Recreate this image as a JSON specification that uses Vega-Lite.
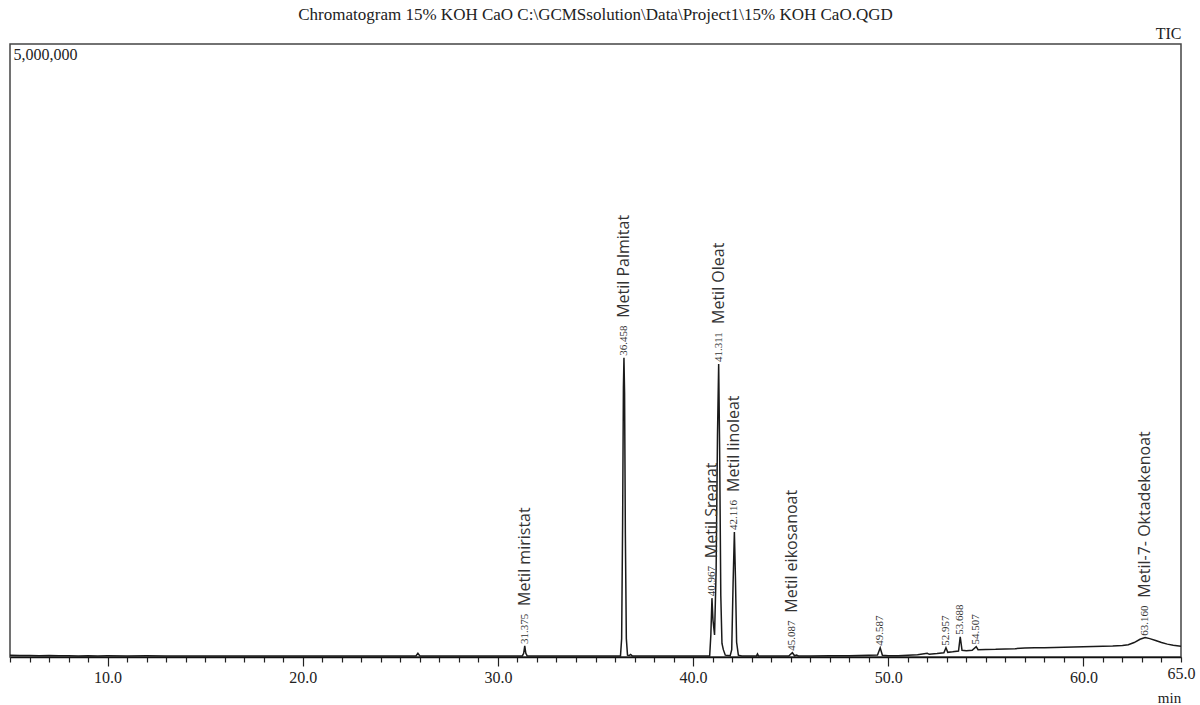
{
  "$schema": "https://vega.github.io/schema/vega-lite/v6.json",
  "width": 1171,
  "height": 613,
  "autosize": {"type": "none"},
  "padding": {"left": 10, "top": 44, "right": 19, "bottom": 48},
  "background": "white",
  "config": {"view": {"stroke": "#444", "strokeWidth": 1.5}, "font": "Liberation Serif"},
  "title": {"text": "Chromatogram 15% KOH CaO C:\\GCMSsolution\\Data\\Project1\\15% KOH CaO.QGD", "font": "Liberation Serif", "fontSize": 17, "fontWeight": "normal", "color": "#222", "anchor": "middle", "baseline": "bottom", "offset": -16},
  "datasets": {
    "trace": [
      {"t": 5.0, "v": 14000}, {"t": 5.5, "v": 12000}, {"t": 6.0, "v": 13000}, {"t": 6.5, "v": 11000},
      {"t": 7.0, "v": 12000}, {"t": 7.5, "v": 10000}, {"t": 8.0, "v": 11000}, {"t": 8.5, "v": 9000},
      {"t": 9.0, "v": 10000}, {"t": 9.5, "v": 9000}, {"t": 10.0, "v": 10000}, {"t": 11.0, "v": 9000},
      {"t": 12.0, "v": 9500}, {"t": 13.0, "v": 8500}, {"t": 14.0, "v": 9000}, {"t": 15.0, "v": 8000},
      {"t": 16.0, "v": 8500}, {"t": 17.0, "v": 8000}, {"t": 18.0, "v": 8500}, {"t": 19.0, "v": 8000},
      {"t": 20.0, "v": 8000}, {"t": 21.0, "v": 8500}, {"t": 22.0, "v": 8000}, {"t": 23.0, "v": 8000},
      {"t": 24.0, "v": 8500}, {"t": 25.0, "v": 8000}, {"t": 25.8, "v": 8000}, {"t": 25.9, "v": 30000},
      {"t": 26.0, "v": 8000}, {"t": 27.0, "v": 8000}, {"t": 28.0, "v": 8000}, {"t": 29.0, "v": 8000},
      {"t": 30.0, "v": 8000}, {"t": 31.0, "v": 8000}, {"t": 31.25, "v": 8500}, {"t": 31.32, "v": 30000},
      {"t": 31.375, "v": 90000}, {"t": 31.43, "v": 30000}, {"t": 31.5, "v": 9000}, {"t": 32.0, "v": 8000},
      {"t": 33.0, "v": 8000}, {"t": 34.0, "v": 8000}, {"t": 35.0, "v": 8000}, {"t": 36.0, "v": 8000},
      {"t": 36.28, "v": 9000}, {"t": 36.34, "v": 150000}, {"t": 36.39, "v": 1100000}, {"t": 36.43, "v": 2200000},
      {"t": 36.458, "v": 2440000}, {"t": 36.49, "v": 2150000}, {"t": 36.53, "v": 1000000}, {"t": 36.58, "v": 150000},
      {"t": 36.64, "v": 15000}, {"t": 36.72, "v": 12000}, {"t": 36.8, "v": 20000}, {"t": 36.88, "v": 9000},
      {"t": 37.5, "v": 8000}, {"t": 38.0, "v": 8000}, {"t": 39.0, "v": 8000}, {"t": 40.0, "v": 8000},
      {"t": 40.85, "v": 9000}, {"t": 40.91, "v": 180000}, {"t": 40.967, "v": 480000}, {"t": 41.02, "v": 300000},
      {"t": 41.1, "v": 180000}, {"t": 41.18, "v": 700000}, {"t": 41.25, "v": 1800000}, {"t": 41.311, "v": 2390000},
      {"t": 41.36, "v": 1700000}, {"t": 41.42, "v": 500000}, {"t": 41.48, "v": 110000}, {"t": 41.55, "v": 60000},
      {"t": 41.65, "v": 15000}, {"t": 41.9, "v": 10000}, {"t": 41.98, "v": 60000}, {"t": 42.05, "v": 600000},
      {"t": 42.116, "v": 1020000}, {"t": 42.17, "v": 650000}, {"t": 42.23, "v": 120000}, {"t": 42.32, "v": 15000},
      {"t": 42.5, "v": 9000}, {"t": 43.0, "v": 8000}, {"t": 43.25, "v": 9000}, {"t": 43.3, "v": 25000},
      {"t": 43.35, "v": 9000}, {"t": 44.0, "v": 8000}, {"t": 44.9, "v": 8500}, {"t": 45.087, "v": 35000},
      {"t": 45.2, "v": 10000}, {"t": 45.3, "v": 16000}, {"t": 45.4, "v": 9000}, {"t": 46.0, "v": 8500},
      {"t": 47.0, "v": 9500}, {"t": 48.0, "v": 11000}, {"t": 48.5, "v": 13000}, {"t": 49.0, "v": 15000},
      {"t": 49.45, "v": 16000}, {"t": 49.587, "v": 75000}, {"t": 49.7, "v": 14000}, {"t": 50.0, "v": 10000},
      {"t": 50.5, "v": 11000}, {"t": 51.0, "v": 14000}, {"t": 51.5, "v": 18000}, {"t": 52.0, "v": 30000},
      {"t": 52.1, "v": 22000}, {"t": 52.5, "v": 28000}, {"t": 52.85, "v": 35000}, {"t": 52.957, "v": 75000},
      {"t": 53.05, "v": 38000}, {"t": 53.3, "v": 42000}, {"t": 53.6, "v": 48000}, {"t": 53.688, "v": 165000},
      {"t": 53.78, "v": 55000}, {"t": 54.0, "v": 52000}, {"t": 54.3, "v": 55000}, {"t": 54.507, "v": 85000},
      {"t": 54.6, "v": 60000}, {"t": 55.0, "v": 62000}, {"t": 55.5, "v": 63000}, {"t": 56.0, "v": 66000},
      {"t": 56.5, "v": 68000}, {"t": 57.0, "v": 74000}, {"t": 57.5, "v": 76000}, {"t": 58.0, "v": 76000},
      {"t": 58.5, "v": 78000}, {"t": 59.0, "v": 80000}, {"t": 59.5, "v": 82000}, {"t": 60.0, "v": 84000},
      {"t": 60.5, "v": 86000}, {"t": 61.0, "v": 88000}, {"t": 61.5, "v": 90000}, {"t": 62.0, "v": 94000},
      {"t": 62.3, "v": 100000}, {"t": 62.6, "v": 118000}, {"t": 62.9, "v": 145000}, {"t": 63.16, "v": 158000},
      {"t": 63.4, "v": 150000}, {"t": 63.7, "v": 135000}, {"t": 64.0, "v": 118000}, {"t": 64.3, "v": 105000},
      {"t": 64.6, "v": 95000}, {"t": 65.0, "v": 88000}
    ],
    "peaks": [
      {"rt": 31.375, "h": 90000, "label": "31.375", "name": "Metil miristat"},
      {"rt": 36.458, "h": 2440000, "label": "36.458", "name": "Metil Palmitat"},
      {"rt": 40.967, "h": 480000, "label": "40.967", "name": "Metil Srearat"},
      {"rt": 41.311, "h": 2390000, "label": "41.311", "name": "Metil Oleat"},
      {"rt": 42.116, "h": 1020000, "label": "42.116", "name": "Metil linoleat"},
      {"rt": 45.087, "h": 35000, "label": "45.087", "name": "Metil eikosanoat"},
      {"rt": 49.587, "h": 75000, "label": "49.587", "name": ""},
      {"rt": 52.957, "h": 75000, "label": "52.957", "name": ""},
      {"rt": 53.688, "h": 165000, "label": "53.688", "name": ""},
      {"rt": 54.507, "h": 85000, "label": "54.507", "name": ""},
      {"rt": 63.16, "h": 158000, "label": "63.160", "name": "Metil-7- Oktadekenoat"}
    ]
  },
  "layer": [
    {
      "data": {"name": "trace"},
      "mark": {"type": "line", "color": "#1a1a1a", "strokeWidth": 1.5, "clip": true},
      "encoding": {
        "x": {
          "field": "t", "type": "quantitative",
          "scale": {"domain": [5, 65], "nice": false, "zero": false},
          "axis": {
            "values": [5,6,7,8,9,10,11,12,13,14,15,16,17,18,19,20,21,22,23,24,25,26,27,28,29,30,31,32,33,34,35,36,37,38,39,40,41,42,43,44,45,46,47,48,49,50,51,52,53,54,55,56,57,58,59,60,61,62,63,64,65],
            "tickCount": 200,
            "labelExpr": "indexof([10,20,30,40,50,60,65], datum.value) >= 0 ? format(datum.value, '.1f') : ''",
            "tickSize": {"condition": {"test": "indexof([10,20,30,40,50,60], datum.value) >= 0", "value": 9}, "value": 5},
            "labelPadding": 3,
            "labelFlush": false,
            "labelOverlap": false,
            "grid": false,
            "domainColor": "#111",
            "domainWidth": 1.5,
            "tickColor": "#222",
            "tickWidth": 1.2,
            "labelFont": "Liberation Serif",
            "labelFontSize": 16,
            "labelColor": "#222",
            "title": "min",
            "titleX": 1159,
            "titleY": 40,
            "titleAlign": "center",
            "titleBaseline": "middle",
            "titleFont": "Liberation Serif",
            "titleFontSize": 15,
            "titleFontWeight": "normal",
            "titleColor": "#222"
          }
        },
        "y": {
          "field": "v", "type": "quantitative",
          "scale": {"domain": [0, 5000000], "nice": false},
          "axis": {
            "values": [5000000],
            "labelExpr": "format(datum.value, ',')",
            "title": "TIC",
            "titleAngle": 0,
            "titleX": 1171,
            "titleY": -6,
            "titleAlign": "right",
            "titleBaseline": "alphabetic",
            "titleFont": "Liberation Serif",
            "titleFontSize": 16,
            "titleFontWeight": "normal",
            "titleColor": "#222",
            "labelAlign": "left",
            "labelBaseline": "top",
            "labelPadding": -3,
            "labelOffset": 2,
            "labelFlush": false,
            "tickSize": 0,
            "ticks": false,
            "domain": false,
            "grid": false,
            "labelFont": "Liberation Serif",
            "labelFontSize": 16,
            "labelColor": "#222"
          }
        }
      }
    },
    {
      "data": {"name": "peaks"},
      "mark": {"type": "text", "angle": 270, "align": "left", "baseline": "middle", "dx": 2, "font": "Liberation Serif", "fontSize": 11, "color": "#333"},
      "encoding": {
        "x": {"field": "rt", "type": "quantitative"},
        "y": {"field": "h", "type": "quantitative"},
        "text": {"field": "label"}
      }
    },
    {
      "data": {"name": "peaks"},
      "transform": [{"filter": "datum.name !== ''"}],
      "mark": {"type": "text", "angle": 270, "align": "left", "baseline": "middle", "dx": 40, "font": "Open Sans", "fontSize": 16, "color": "#333"},
      "encoding": {
        "x": {"field": "rt", "type": "quantitative"},
        "y": {"field": "h", "type": "quantitative"},
        "text": {"field": "name"}
      }
    }
  ]
}
